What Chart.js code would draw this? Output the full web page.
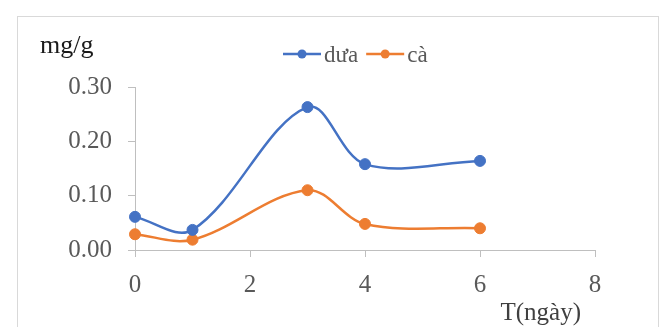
<!DOCTYPE html>
<html lang="vi">
<head>
<meta charset="UTF-8">
<title>dưa - cà</title>
<script src="https://cdn.jsdelivr.net/npm/chart.js"></script>
<style>
  html, body { margin: 0; padding: 0; background: #fff; }
  #frame {
    position: absolute; left: 17px; top: 16px; width: 642px; height: 330px;
    border: 1px solid #d9d9d9; box-sizing: border-box;
  }
  #wrap { position: absolute; left: 0; top: 0; width: 664px; height: 327px; }
</style>
</head>
<body>
<div id="frame"></div>
<div id="wrap"><canvas id="chart" width="664" height="327"></canvas></div>
<script>
// données
const days = [0, 1, 3, 4, 6];
const dua = [0.061, 0.037, 0.263, 0.158, 0.164];
const ca = [0.029, 0.019, 0.110, 0.048, 0.040];
const seriesNames = ['dưa', 'cà'];
const seriesColors = ['#4472C4', '#ED7D31'];
const xTicks = [0, 2, 4, 6, 8];
const yTicks = [0, 0.1, 0.2, 0.3];

const serif = '"Liberation Serif", "Times New Roman", serif';

function pts(vals) {
  return days.map((d, i) => ({ x: d, y: vals[i] }));
}

// légende + titres des axes dessinés à la main
const extras = {
  id: 'extras',
  afterDraw(chart) {
    const ctx = chart.ctx;
    const a = chart.chartArea;
    ctx.save();
    ctx.fillStyle = '#1a1a1a';
    ctx.font = '26px ' + serif;
    ctx.textAlign = 'left';
    ctx.textBaseline = 'alphabetic';
    ctx.fillText('mg/g', a.left - 95, a.top - 34);

    ctx.fillStyle = '#404040';
    ctx.font = '25px ' + serif;
    ctx.textAlign = 'right';
    ctx.fillText('T(ngày)', a.right - 14, a.bottom + 70);

    // légende
    ctx.font = '23px ' + serif;
    ctx.textAlign = 'left';
    let x = 283;
    const y = 54;
    seriesNames.forEach((name, i) => {
      ctx.strokeStyle = seriesColors[i];
      ctx.lineWidth = 2.5;
      ctx.beginPath();
      ctx.moveTo(x, y);
      ctx.lineTo(x + 38, y);
      ctx.stroke();
      ctx.fillStyle = seriesColors[i];
      ctx.beginPath();
      ctx.arc(x + 19, y, 4.5, 0, Math.PI * 2);
      ctx.fill();
      ctx.fillStyle = '#595959';
      ctx.fillText(name, x + 41, y + 8);
      x += 41 + ctx.measureText(name).width + 8;
    });
    ctx.restore();
  }
};

function serie(i, vals) {
  return {
    label: seriesNames[i],
    data: pts(vals),
    borderColor: seriesColors[i],
    backgroundColor: seriesColors[i],
    borderWidth: 2.5,
    pointRadius: 5.5,
    pointBorderWidth: 1,
    tension: 0.35,
    clip: false
  };
}

new Chart(document.getElementById('chart'), {
  type: 'line',
  data: { datasets: [serie(0, dua), serie(1, ca)] },
  options: {
    responsive: false,
    animation: false,
    layout: { padding: { left: 0, right: 69, top: 87, bottom: 0 } },
    plugins: { legend: { display: false }, tooltip: { enabled: false } },
    scales: {
      x: {
        type: 'linear',
        min: 0, max: 8,
        afterBuildTicks: s => { s.ticks = xTicks.map(v => ({ value: v })); },
        afterFit: s => { s.height = 77; },
        grid: { drawOnChartArea: false, drawTicks: true, tickLength: 7, color: '#bfbfbf' },
        border: { color: '#bfbfbf', width: 1 },
        ticks: { color: '#595959', font: { family: serif, size: 25 }, padding: 13 }
      },
      y: {
        min: 0, max: 0.3,
        afterBuildTicks: s => { s.ticks = yTicks.map(v => ({ value: v })); },
        afterFit: s => { s.width = 135; },
        grid: { drawOnChartArea: false, drawTicks: true, tickLength: 7, color: '#bfbfbf' },
        border: { color: '#bfbfbf', width: 1 },
        ticks: {
          color: '#595959', font: { family: serif, size: 25 }, padding: 16,
          callback: v => v.toFixed(2)
        }
      }
    }
  },
  plugins: [extras]
});
</script>
</body>
</html>
